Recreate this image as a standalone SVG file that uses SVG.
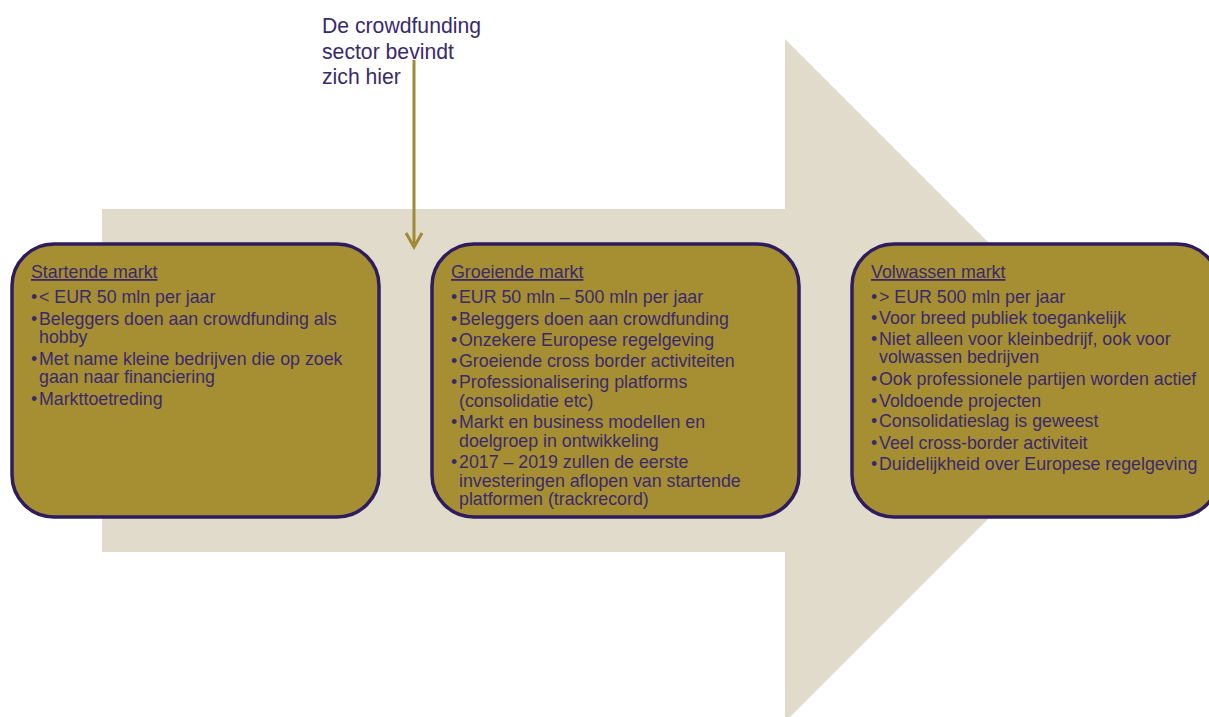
<svg xmlns="http://www.w3.org/2000/svg" width="1209" height="717" viewBox="0 0 1209 717">
<style>
.box{fill:#a68e33;stroke:#2e1c5c;stroke-width:3.5}
.t{font-family:"Liberation Sans",Arial,sans-serif;font-size:17.8px;fill:#3a2a6c}
.h{text-decoration:underline}
.lbl{font-family:"Liberation Sans",Arial,sans-serif;font-size:21.2px;fill:#3a2a6c}
.conn{stroke:#a08a38;stroke-width:3;fill:none}
</style>
<rect width="1209" height="717" fill="#ffffff"/>
<g id="bigArrow">
<polygon points="102,209 785,209 785,39 1126.5,380.5 785,722 785,552 102,552" fill="#e0dbca"/>
</g>
<g id="label">
<text class="lbl" x="322" y="33">De crowdfunding</text>
<text class="lbl" x="322" y="59">sector bevindt</text>
<text class="lbl" x="322" y="84">zich hier</text>
</g>
<g id="connectors">
<line class="conn" x1="414" y1="60" x2="414" y2="247"/>
<polyline class="conn" points="406,233 414,247 422,233"/>
</g>
<g id="startende">
<rect class="box" x="12" y="244" width="367" height="273" rx="42" ry="42"/>
<text class="t h" x="31" y="278">Startende markt</text>
<text class="t"><tspan x="31" y="303">•</tspan><tspan x="39" y="303">&lt; EUR 50 mln per jaar</tspan></text>
<text class="t"><tspan x="31" y="325">•</tspan><tspan x="39" y="325">Beleggers doen aan crowdfunding als</tspan><tspan x="39" y="343">hobby</tspan></text>
<text class="t"><tspan x="31" y="365">•</tspan><tspan x="39" y="365">Met name kleine bedrijven die op zoek</tspan><tspan x="39" y="383">gaan naar financiering</tspan></text>
<text class="t"><tspan x="31" y="405">•</tspan><tspan x="39" y="405">Markttoetreding</tspan></text>
</g>
<g id="groeiende">
<rect class="box" x="432" y="244" width="367" height="273" rx="42" ry="42"/>
<text class="t h" x="451" y="278">Groeiende markt</text>
<text class="t"><tspan x="451" y="303">•</tspan><tspan x="459" y="303">EUR 50 mln – 500 mln per jaar</tspan></text>
<text class="t"><tspan x="451" y="325">•</tspan><tspan x="459" y="325">Beleggers doen aan crowdfunding</tspan></text>
<text class="t"><tspan x="451" y="346">•</tspan><tspan x="459" y="346">Onzekere Europese regelgeving</tspan></text>
<text class="t"><tspan x="451" y="367">•</tspan><tspan x="459" y="367">Groeiende cross border activiteiten</tspan></text>
<text class="t"><tspan x="451" y="388">•</tspan><tspan x="459" y="388">Professionalisering platforms</tspan><tspan x="459" y="407">(consolidatie etc)</tspan></text>
<text class="t"><tspan x="451" y="428">•</tspan><tspan x="459" y="428">Markt en business modellen en</tspan><tspan x="459" y="447">doelgroep in ontwikkeling</tspan></text>
<text class="t"><tspan x="451" y="468">•</tspan><tspan x="459" y="468">2017 – 2019 zullen de eerste</tspan><tspan x="459" y="487">investeringen aflopen van startende</tspan><tspan x="459" y="505">platformen (trackrecord)</tspan></text>
</g>
<g id="volwassen">
<rect class="box" x="852" y="244" width="367" height="273" rx="42" ry="42"/>
<text class="t h" x="871" y="278">Volwassen markt</text>
<text class="t"><tspan x="871" y="303">•</tspan><tspan x="879" y="303">&gt; EUR 500 mln per jaar</tspan></text>
<text class="t"><tspan x="871" y="324">•</tspan><tspan x="879" y="324">Voor breed publiek toegankelijk</tspan></text>
<text class="t"><tspan x="871" y="345">•</tspan><tspan x="879" y="345">Niet alleen voor kleinbedrijf, ook voor</tspan><tspan x="879" y="363">volwassen bedrijven</tspan></text>
<text class="t"><tspan x="871" y="385">•</tspan><tspan x="879" y="385">Ook professionele partijen worden actief</tspan></text>
<text class="t"><tspan x="871" y="407">•</tspan><tspan x="879" y="407">Voldoende projecten</tspan></text>
<text class="t"><tspan x="871" y="427">•</tspan><tspan x="879" y="427">Consolidatieslag is geweest</tspan></text>
<text class="t"><tspan x="871" y="449">•</tspan><tspan x="879" y="449">Veel cross-border activiteit</tspan></text>
<text class="t"><tspan x="871" y="470">•</tspan><tspan x="879" y="470">Duidelijkheid over Europese regelgeving</tspan></text>
</g>
</svg>
